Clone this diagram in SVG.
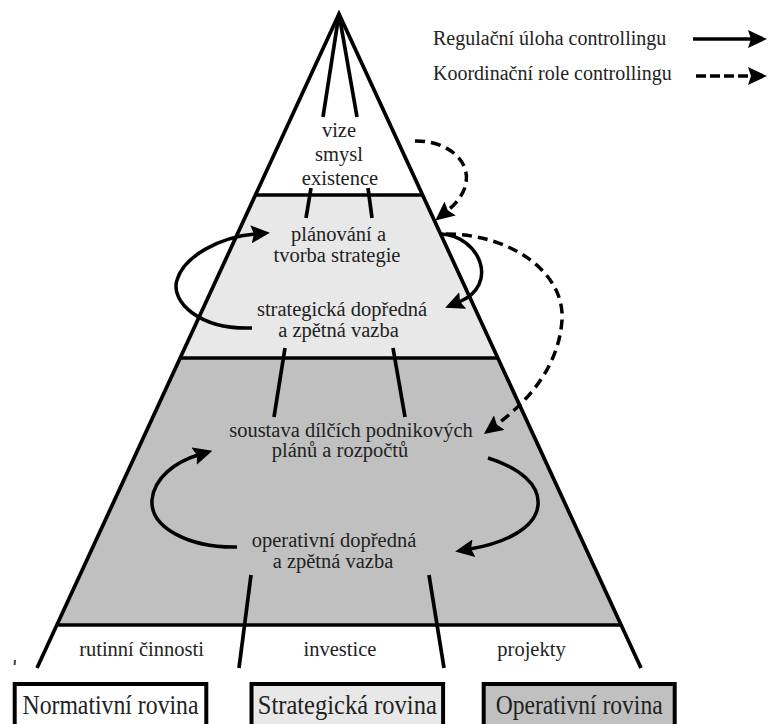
<svg xmlns="http://www.w3.org/2000/svg" width="768" height="724" viewBox="0 0 768 724">
<style>
text{font-family:"Liberation Serif","Times New Roman",serif;fill:#222}
.lbl{font-size:20.5px;text-anchor:middle}
.leg{font-size:20px}
.box{font-size:28px;text-anchor:middle}
.ln{stroke:#000;stroke-width:3.7;fill:none;stroke-linecap:butt}
.ar{stroke:#000;stroke-width:3.5;fill:none}
.da{stroke-dasharray:10 6}
.bx{stroke:#000;stroke-width:4}
</style>
<defs>
<marker id="ah" markerUnits="userSpaceOnUse" markerWidth="19" markerHeight="18" viewBox="0 0 19 18" refX="4" refY="9" orient="auto">
<path d="M0,0 L19,9 L0,18 L3,9 z" fill="#000"/>
</marker>
</defs>

<g id="pyramid">
<polygon points="255.3,195 422.7,195 498.1,358 179.9,358" fill="#e8e8e8"/>
<polygon points="179.9,358 498.1,358 621.6,625 56.4,625" fill="#c0c0c0"/>
<polyline class="ln" points="37,668 339,14 641,668" stroke-linejoin="miter"/>
<line class="ln" x1="255.3" y1="195" x2="422.7" y2="195"/>
<line class="ln" x1="179.9" y1="358" x2="498.1" y2="358"/>
<line class="ln" x1="56.4" y1="625" x2="621.6" y2="625"/>
<line x1="15" y1="660" x2="14.6" y2="665" stroke="#444" stroke-width="2"/>
</g>

<g id="connectors">
<line class="ln" x1="339" y1="14" x2="323" y2="117"/>
<line class="ln" x1="339" y1="14" x2="357" y2="117"/>
<line class="ln" x1="311" y1="188" x2="306" y2="218"/>
<line class="ln" x1="368" y1="188" x2="372" y2="218"/>
<line class="ln" x1="285" y1="348" x2="274" y2="417"/>
<line class="ln" x1="393" y1="348" x2="405" y2="417"/>
<line class="ln" x1="251" y1="575" x2="239" y2="668"/>
<line class="ln" x1="429" y1="575" x2="444" y2="668"/>
<path class="ar da" d="M415,141 C458,140 488,178 447,211" marker-end="url(#ah)"/>
<path class="ar" d="M441,234 C480,236 500,285 459,302" marker-end="url(#ah)"/>
<path class="ar da" d="M446,234 C510,234 565,272 562,320 C559,365 530,400 496,425" marker-end="url(#ah)"/>
<path class="ar" d="M252,328 C200,330 170,302 177,280 C184,256 220,237 255,234" marker-end="url(#ah)"/>
<path class="ar" d="M237,547 C190,548 150,528 152,500 C154,478 175,462 198,455" marker-end="url(#ah)"/>
<path class="ar" d="M488,458 C520,468 540,485 538,505 C536,528 505,543 470,549" marker-end="url(#ah)"/>
</g>

<g id="legend">
<text class="leg" x="433" y="45">Regulační úloha controllingu</text>
<text class="leg" x="433" y="80">Koordinační role controllingu</text>
<line class="ar" x1="693" y1="39" x2="752" y2="39" marker-end="url(#ah)"/>
<line class="ar" x1="696" y1="76" x2="752" y2="76" marker-end="url(#ah)" style="stroke-dasharray:10 4"/>
</g>

<g id="node-vize">
<text class="lbl" x="339" y="137">vize</text>
<text class="lbl" x="339" y="161">smysl</text>
<text class="lbl" x="340" y="185">existence</text>
</g>
<g id="node-planovani">
<text class="lbl" x="338.5" y="241">plánování a</text>
<text class="lbl" x="337" y="262">tvorba strategie</text>
</g>
<g id="node-strategicka-vazba">
<text class="lbl" x="342" y="316">strategická dopředná</text>
<text class="lbl" x="338.5" y="337">a zpětná vazba</text>
</g>
<g id="node-soustava">
<text class="lbl" x="351" y="437">soustava dílčích podnikových</text>
<text class="lbl" x="340" y="457">plánů a rozpočtů</text>
</g>
<g id="node-operativni-vazba">
<text class="lbl" x="334" y="547">operativní dopředná</text>
<text class="lbl" x="333" y="568">a zpětná vazba</text>
</g>
<g id="node-rutinni">
<text class="lbl" x="141.5" y="656">rutinní činnosti</text>
</g>
<g id="node-investice">
<text class="lbl" x="340" y="656">investice</text>
</g>
<g id="node-projekty">
<text class="lbl" x="531.5" y="656">projekty</text>
</g>

<g id="box-normativni">
<rect class="bx" x="14.7" y="684" width="191.6" height="60" fill="#fff"/>
<text class="box" x="110.5" y="714" textLength="176" lengthAdjust="spacingAndGlyphs">Normativní rovina</text>
</g>
<g id="box-strategicka">
<rect class="bx" x="251.5" y="684" width="191.6" height="60" fill="#e8e8e8"/>
<text class="box" x="347.3" y="714" textLength="179" lengthAdjust="spacingAndGlyphs">Strategická rovina</text>
</g>
<g id="box-operativni">
<rect class="bx" x="483.7" y="684" width="191" height="60" fill="#c0c0c0"/>
<text class="box" x="579.2" y="714" textLength="167" lengthAdjust="spacingAndGlyphs">Operativní rovina</text>
</g>
</svg>
